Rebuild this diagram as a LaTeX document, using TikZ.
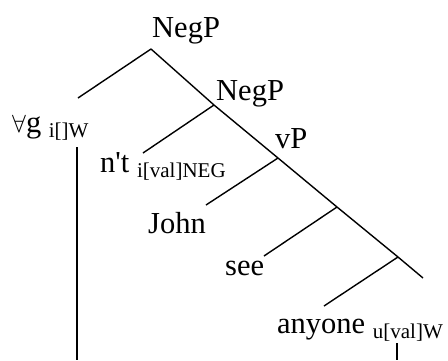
\documentclass[tikz,border=0pt]{standalone}
\usepackage{fontspec}
\setmainfont{Liberation Serif}
\usepackage{tikz}
\newcommand{\feat}[1] {\raisebox{-5pt}{\fontsize{21}{21}\selectfont #1}}

\begin{document}
\begin{tikzpicture}[x=1pt, y=-1pt,
        every node/.style={inner sep=0pt, anchor=base west, font=\fontsize{30.5}{30.5}\selectfont},
        branch/.style={line width=1.4pt}]
        \useasboundingbox (0,0) rectangle (448,360);

        %branching points
        \coordinate (n1) at (151,49);
        \coordinate (n2) at (214,105);
        \coordinate (n3) at (278,158);
        \coordinate (n4) at (337,207);
        \coordinate (n5) at (398,257);
        \coordinate (r5) at (423,278);

        %left daughters
        \coordinate (l1) at (78,98);
        \coordinate (l2) at (143,153);
        \coordinate (l3) at (206,205);
        \coordinate (l4) at (264,256);
        \coordinate (l5) at (324,306);

        %labels
        \node (negp) at (152,37)  {NegP};
        \node (negpb) at (216,100) {NegP};
        \node (vp) at (275,148)   {vP};
        \node (forall) at (12,132) {$\forall$g \feat{i[]W}};
        \node (neg) at (100,172)  {n\textquotesingle t \feat{i[val]NEG}};
        \node (john) at (148,233) {John};
        \node (see) at (225,275)  {see};
        \node (anyone) at (277,333) {anyone \feat{u[val]W}};

        %agree lines
        \coordinate (ga) at (77,147);
        \coordinate (gb) at (77,360);
        \coordinate (aa) at (397,343);
        \coordinate (ab) at (397,360);

        %spine
        \path[branch] (n1) edge (n2);
        \path[branch] (n2) edge (n3);
        \path[branch] (n3) edge (n4);
        \path[branch] (n4) edge (n5);
        \path[branch] (n5) edge (r5);

        %specifiers and heads
        \path[branch] (n1) edge (l1);
        \path[branch] (n2) edge (l2);
        \path[branch] (n3) edge (l3);
        \path[branch] (n4) edge (l4);
        \path[branch] (n5) edge (l5);

        %agree
        \path[branch] (ga) edge (gb);
        \path[branch] (aa) edge (ab);

\end{tikzpicture}
\end{document}
